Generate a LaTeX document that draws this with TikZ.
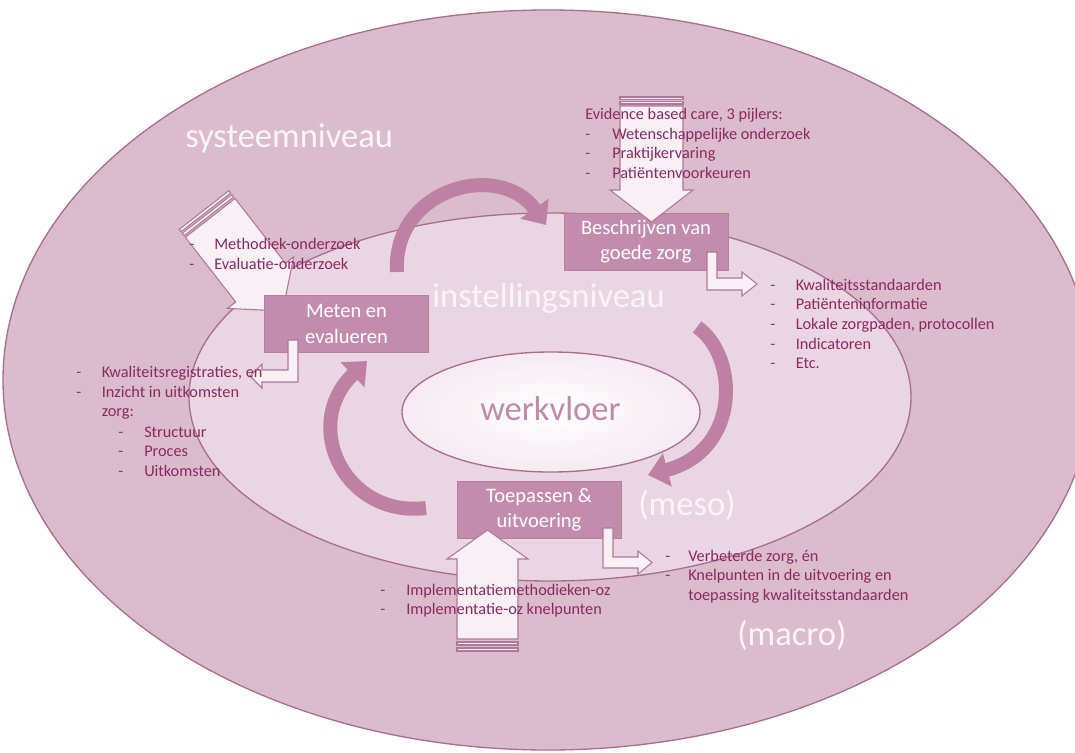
\documentclass[tikz,border=0pt]{standalone}
\usepackage{fontspec}
\setmainfont{Carlito}
\usetikzlibrary{arrows.meta}
\definecolor{outerc}{HTML}{DABCCD}
\definecolor{innerc}{HTML}{EAD6E2}
\definecolor{borderc}{HTML}{AA6E91}
\definecolor{boxc}{HTML}{C48CAC}
\definecolor{boxb}{HTML}{B97E9F}
\definecolor{cycc}{HTML}{BE80A3}
\definecolor{wfill}{HTML}{F8F0F5}
\definecolor{wline}{HTML}{AF7896}
\definecolor{txtc}{HTML}{8C285F}
\definecolor{dshc}{HTML}{6E4A5E}
\definecolor{bigc}{HTML}{FAF4F8}
\definecolor{werkc}{HTML}{BE8CA8}
\begin{document}
\begin{tikzpicture}[x=0.75pt,y=-0.75pt,
  lst/.style={anchor=base west, inner sep=0pt, text=txtc, font=\fontsize{12.2}{14.8}\selectfont},
  dsh/.style={lst, text=dshc},
  big/.style={anchor=base west, inner sep=0pt, text=bigc, font=\fontsize{25.9}{30}\selectfont},
  boxn/.style={fill=boxc, draw=boxb, line width=0.6pt, minimum width=123pt, minimum height=42.75pt,
    inner sep=0pt, align=center, text=white, font=\fontsize{15.4}{18.8}\selectfont},
  blk/.style={fill=wfill, draw=wline, line width=0.8pt, line join=miter},
  cyc/.style={draw=cycc, line width=10.5pt, -{Triangle[width=25pt,length=15pt]}},
  ell/.style={draw=borderc, line width=1pt}
]
\useasboundingbox (0,0) rectangle (1075,753);
\fill[white] (0,0) rectangle (1075,753);
% levels
\begin{scope}
\clip (0,0) rectangle (1075,753);
\draw[ell, fill=outerc] (548,380) ellipse [x radius=545, y radius=370];
\end{scope}
\draw[ell, fill=innerc] (550,397) ellipse [x radius=361, y radius=184];
\shadedraw[ell, inner color=white, outer color=wfill!80!innerc] (551,412) ellipse [x radius=149, y radius=60];

% cycle arrows
\coordinate (c1s) at (397,272); \coordinate (c1e) at (546,225);
\coordinate (c2s) at (697,327); \coordinate (c2e) at (648,475);
\coordinate (c3s) at (426,508); \coordinate (c3e) at (367,361);
\draw[cyc] (c1s) .. controls (392,188) and (500,160) .. (c1e);
\draw[cyc] (c2s) .. controls (738,355) and (742,450) .. (c2e);
\draw[cyc] (c3s) .. controls (345,518) and (300,425) .. (c3e);

% diagonal striped arrow (under the box)
\draw[blk] (179.2,229.4) -- (228.9,190.6) -- (230.7,193.0) -- (181.0,231.7) -- cycle;
\draw[blk] (182.2,233.3) -- (231.9,194.6) -- (233.8,196.9) -- (184.1,235.7) -- cycle;
\draw[blk] (185.3,237.3) -- (235.0,198.5) -- (285.4,263.2) -- (293.7,256.8) -- (282.7,311.0)
  -- (227.4,308.4) -- (235.7,302.0) -- cycle;

% boxes
\node[boxn] (besch) at (646,241.5) {Beschrijven van\\goede zorg};
\node[boxn] (meten) at (346.5,324) {Meten en\\evalueren};
\node[boxn] (toep) at (539,510) {Toepassen \&\\uitvoering};

% top striped arrow
\draw[blk] (620,97) rectangle (683,99.5);
\draw[blk] (620,101.5) rectangle (683,104);
\draw[blk] (620,106) -- (683,106) -- (683,190) -- (693,190) -- (651.5,222) -- (610,190) -- (620,190) -- cycle;
% bottom striped arrow
\draw[blk] (457,639) -- (457,559) -- (447,559) -- (487.5,530) -- (528,559) -- (518,559) -- (518,639) -- cycle;
\draw[blk] (457,642) rectangle (518,645);
\draw[blk] (457,648) rectangle (518,651);

% bent output arrows
\draw[blk] (707,252) -- (717,252) -- (717,278) -- (742,278) -- (742,272) -- (757,284) -- (742,296) -- (742,290) -- (707,290) -- cycle;
\draw[blk] (288,340) -- (298,340) -- (298,382) -- (262,382) -- (262,388) -- (250,376) -- (262,364) -- (262,370) -- (288,370) -- cycle;
\draw[blk] (603,528) -- (613,528) -- (613,557) -- (638,557) -- (638,551) -- (652,562.5) -- (638,574) -- (638,568) -- (603,568) -- cycle;

% level labels
\node[big] (sys) at (185,147) {systeemniveau};
\node[big] (inst) at (432,307) {instellingsniveau};
\node[big, text=werkc] (werk) at (480,420) {werkvloer};
\node[big] (meso) at (638,515) {(meso)};
\node[big] (macro) at (737,645) {(macro)};

% evidence list
\node[lst] (ev0) at (585,119.5) {Evidence based care, 3 pijlers:};
\node[dsh] (ev1d) at (585,139.2) {-}; \node[lst] (ev1) at (612,139.2) {Wetenschappelijke onderzoek};
\node[dsh] (ev2d) at (585,158.9) {-}; \node[lst] (ev2) at (612,158.9) {Praktijkervaring};
\node[dsh] (ev3d) at (585,178.6) {-}; \node[lst] (ev3) at (612,178.6) {Patiëntenvoorkeuren};

% method list
\node[dsh] (m1d) at (189,249.3) {-}; \node[lst] (m1) at (214,249.3) {Methodiek-onderzoek};
\node[dsh] (m2d) at (189,269) {-}; \node[lst] (m2) at (214,269) {Evaluatie-onderzoek};

% standards list
\node[dsh] (k1d) at (770,290) {-}; \node[lst] (k1) at (795.5,290) {Kwaliteitsstandaarden};
\node[dsh] (k2d) at (770,309.7) {-}; \node[lst] (k2) at (795.5,309.7) {Patiënteninformatie};
\node[dsh] (k3d) at (770,329.4) {-}; \node[lst] (k3) at (795.5,329.4) {Lokale zorgpaden, protocollen};
\node[dsh] (k4d) at (770,349.1) {-}; \node[lst] (k4) at (795.5,349.1) {Indicatoren};
\node[dsh] (k5d) at (770,368.8) {-}; \node[lst] (k5) at (795.5,368.8) {Etc.};

% registration list
\node[dsh] (r1d) at (76,377.3) {-}; \node[lst] (r1) at (101.5,377.3) {Kwaliteitsregistraties, en};
\node[dsh] (r2d) at (76,397) {-}; \node[lst] (r2) at (101.5,397) {Inzicht in uitkomsten};
\node[lst] (r3) at (101.5,416.7) {zorg:};
\node[dsh] (r4d) at (118,437) {-}; \node[lst] (r4) at (144,437) {Structuur};
\node[dsh] (r5d) at (118,456.7) {-}; \node[lst] (r5) at (144,456.7) {Proces};
\node[dsh] (r6d) at (118,476.4) {-}; \node[lst] (r6) at (144,476.4) {Uitkomsten};

% implementation list
\node[dsh] (i1d) at (380,595) {-}; \node[lst] (i1) at (406,595) {Implementatiemethodieken-oz};
\node[dsh] (i2d) at (380,614.5) {-}; \node[lst] (i2) at (406,614.5) {Implementatie-oz knelpunten};

% result list
\node[dsh] (v1d) at (665,561) {-}; \node[lst] (v1) at (688,561) {Verbeterde zorg, én};
\node[dsh] (v2d) at (665,580.5) {-}; \node[lst] (v2) at (688,580.5) {Knelpunten in de uitvoering en};
\node[lst] (v3) at (688,600) {toepassing kwaliteitsstandaarden};
\end{tikzpicture}
\end{document}
